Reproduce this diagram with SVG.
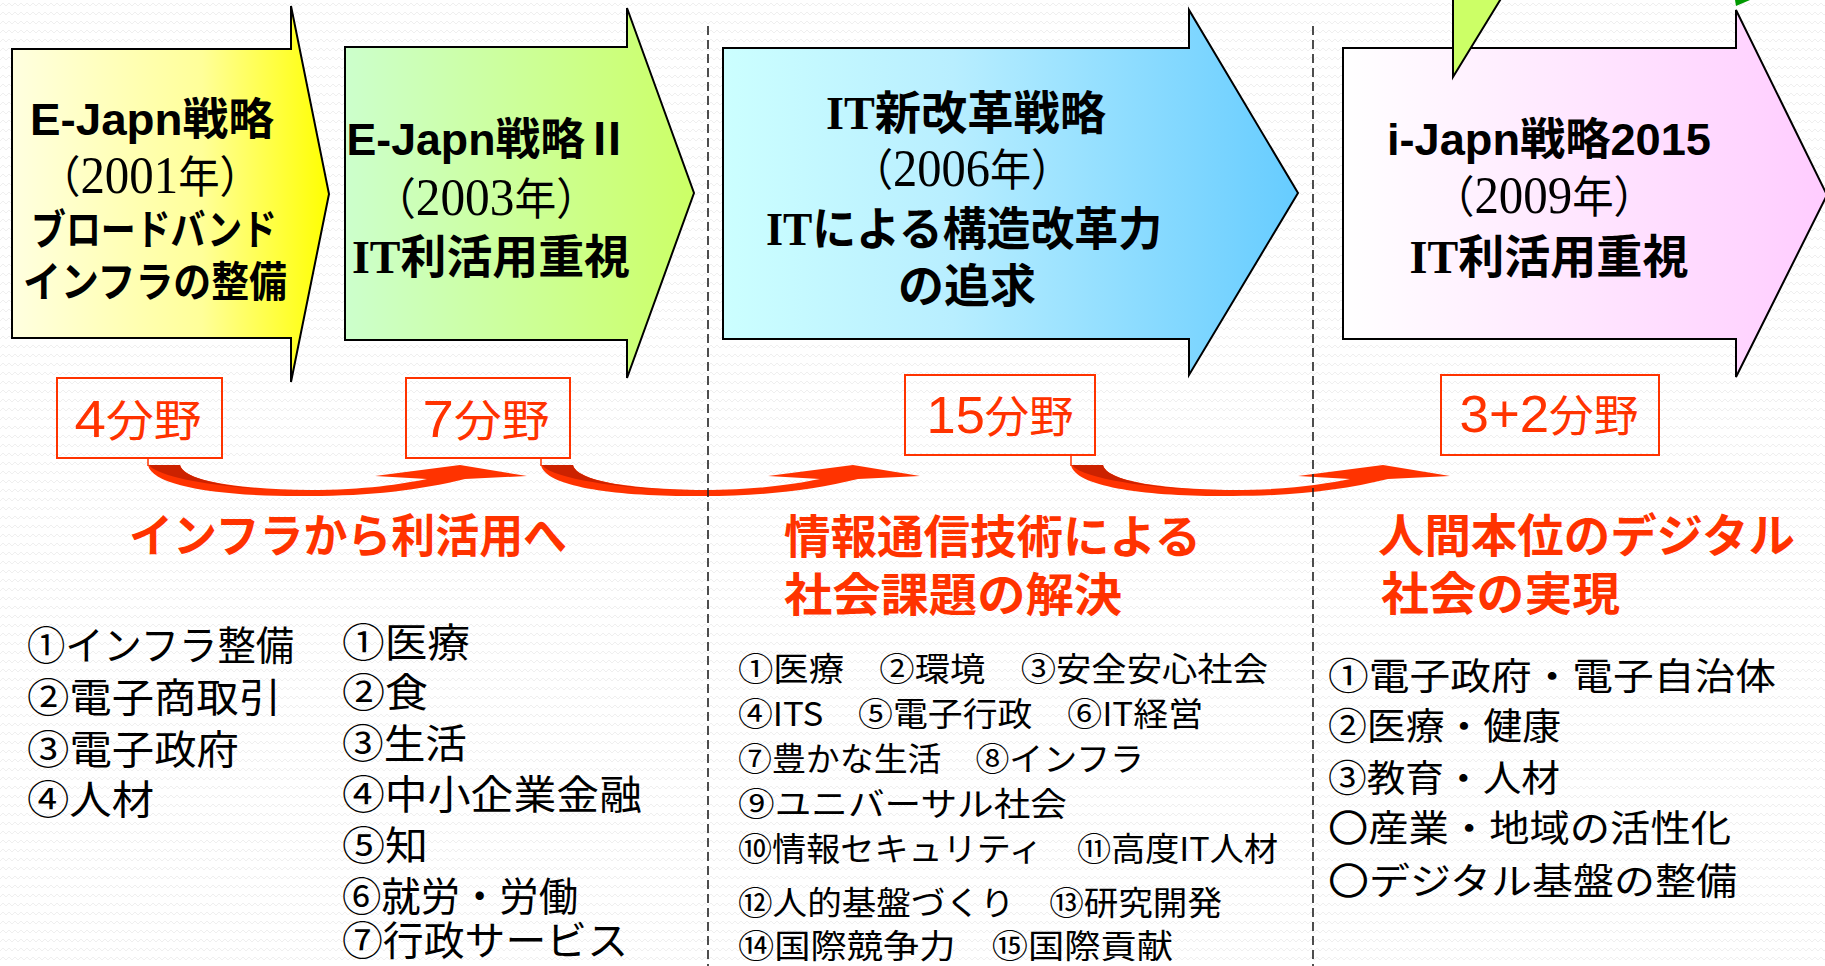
<svg xmlns="http://www.w3.org/2000/svg" xmlns:xlink="http://www.w3.org/1999/xlink" width="1825" height="966" viewBox="0 0 1825 966">
<defs>
  <style>
    .sb { font-family: "Liberation Sans", "Noto Sans CJK JP", sans-serif; font-weight: bold; fill: #000; }
    .sr { font-family: "Liberation Serif", "Noto Sans CJK JP", serif; font-weight: normal; fill: #000; }
    .srb { font-family: "Liberation Serif", "Noto Sans CJK JP", serif; font-weight: bold; fill: #000; }
    .jpb { font-family: "Noto Sans CJK JP", sans-serif; font-weight: bold; fill: #000; }
    .jp { font-family: "Noto Sans CJK JP", sans-serif; font-weight: normal; fill: #000; }
    .redh { font-family: "Noto Sans CJK JP", sans-serif; font-weight: bold; fill: #FF3300; }
    .boxt { font-family: "Liberation Sans", "Noto Sans CJK JP", sans-serif; font-weight: normal; fill: #FF3300; }
    .arrow { stroke: #000; stroke-width: 2; stroke-linejoin: miter; }
    .fbox { fill: none; stroke: #FF3300; stroke-width: 2; }
    .divider { stroke: #222; stroke-width: 1.6; stroke-dasharray: 9 5; fill: none; }
    .tail { stroke: #FF3300; stroke-width: 1.5; }
  </style>
  <pattern id="bgpat" width="12" height="9" patternUnits="userSpaceOnUse">
    <path d="M0,6 L3,3 L6,6 L9,3 L12,6" fill="none" stroke="#EFEFEF" stroke-width="1"/>
  </pattern>
  <linearGradient id="gYellow" x1="0" y1="0" x2="1" y2="0">
    <stop offset="0" stop-color="#FFFFE0"/>
    <stop offset="0.6" stop-color="#FFFF99"/>
    <stop offset="1" stop-color="#FFFF00"/>
  </linearGradient>
  <linearGradient id="gGreen" x1="0" y1="0" x2="1" y2="0">
    <stop offset="0" stop-color="#CCFFCC"/>
    <stop offset="1" stop-color="#CCFF66"/>
  </linearGradient>
  <linearGradient id="gBlue" x1="0" y1="0" x2="1" y2="0">
    <stop offset="0" stop-color="#CCFFFF"/>
    <stop offset="0.4" stop-color="#B8EEFF"/>
    <stop offset="1" stop-color="#66CCFF"/>
  </linearGradient>
  <linearGradient id="gPink" x1="0" y1="0" x2="1" y2="0">
    <stop offset="0" stop-color="#FFFFFF"/>
    <stop offset="1" stop-color="#FFCCFF"/>
  </linearGradient>
  <g id="curved">
    <path d="M148,465 L180,465 C184,481 236,489 310,490 C365,490 402,484 427,479 L375,476 L460,465 L527,476 L465,479 C420,490 370,496 310,496 C225,497 152,487 148,465 Z" fill="#FF3300"/>
    <path d="M149,465 L180,465 C184,481 236,489 300,491 C235,489 172,481 152,468 Z" fill="#CC2200"/>
  </g>
</defs>

<g id="background">
  <rect x="0" y="0" width="1825" height="966" fill="#FFFFFF"/>
  <rect x="0" y="0" width="1825" height="966" fill="url(#bgpat)"/>
</g>

<g id="arrow-2001">
  <path class="arrow" fill="url(#gYellow)" d="M12,49 L291,49 L291,6 L329,194 L291,382 L291,338 L12,338 Z"/>
  <text class="sb" x="152" y="135" font-size="44" text-anchor="middle" textLength="244" lengthAdjust="spacingAndGlyphs">E-Japn戦略</text>
  <text class="sr" x="150" y="193" font-size="44" text-anchor="middle" textLength="222" lengthAdjust="spacingAndGlyphs">（<tspan font-size="52">2001</tspan>年）</text>
  <text class="jpb" x="154" y="245" font-size="42" text-anchor="middle" textLength="246" lengthAdjust="spacingAndGlyphs">ブロードバンド</text>
  <text class="jpb" x="155" y="297" font-size="42" text-anchor="middle" textLength="264" lengthAdjust="spacingAndGlyphs">インフラの整備</text>
</g>

<g id="arrow-2003">
  <path class="arrow" fill="url(#gGreen)" d="M345,47 L627,47 L627,8 L694,193 L627,378 L627,340 L345,340 Z"/>
  <text class="sb" x="488" y="155" font-size="44" text-anchor="middle" textLength="283" lengthAdjust="spacingAndGlyphs">E-Japn戦略Ⅱ</text>
  <text class="sr" x="486" y="215" font-size="44" text-anchor="middle" textLength="224" lengthAdjust="spacingAndGlyphs">（<tspan font-size="52">2003</tspan>年）</text>
  <text class="srb" x="491" y="273" font-size="46" text-anchor="middle" textLength="278" lengthAdjust="spacingAndGlyphs">IT利活用重視</text>
</g>

<g id="arrow-2006">
  <path class="arrow" fill="url(#gBlue)" d="M723,48 L1189,48 L1189,10 L1298,193 L1189,375 L1189,339 L723,339 Z"/>
  <text class="srb" x="966" y="129" font-size="46" text-anchor="middle" textLength="280" lengthAdjust="spacingAndGlyphs">IT新改革戦略</text>
  <text class="sr" x="962" y="186" font-size="44" text-anchor="middle" textLength="220" lengthAdjust="spacingAndGlyphs">（<tspan font-size="52">2006</tspan>年）</text>
  <text class="srb" x="964" y="245" font-size="46" text-anchor="middle" textLength="396" lengthAdjust="spacingAndGlyphs">ITによる構造改革力</text>
  <text class="srb" x="967" y="302" font-size="46" text-anchor="middle">の追求</text>
</g>

<g id="arrow-2009">
  <path class="arrow" fill="url(#gPink)" d="M1343,48 L1736,48 L1736,10 L1827,195 L1736,377 L1736,339 L1343,339 Z"/>
  <polygon class="arrow" fill="#CCFF66" points="1453,-3 1502,-3 1453,77"/>
  <polygon fill="#009900" points="1735,0 1750,0 1736,6"/>
  <text class="sb" x="1549" y="155" font-size="44" text-anchor="middle" textLength="324" lengthAdjust="spacingAndGlyphs">i-Japn戦略2015</text>
  <text class="sr" x="1544" y="213" font-size="44" text-anchor="middle" textLength="222" lengthAdjust="spacingAndGlyphs">（<tspan font-size="52">2009</tspan>年）</text>
  <text class="srb" x="1549" y="273" font-size="46" text-anchor="middle" textLength="279" lengthAdjust="spacingAndGlyphs">IT利活用重視</text>
</g>

<g id="box-4">
  <rect class="fbox" x="57" y="378" width="165" height="80"/>
  <text class="boxt" x="138" y="437" font-size="44" text-anchor="middle" textLength="127" lengthAdjust="spacingAndGlyphs"><tspan font-size="52">4</tspan>分野</text>
</g>
<g id="box-7">
  <rect class="fbox" x="406" y="378" width="164" height="80"/>
  <text class="boxt" x="486" y="437" font-size="44" text-anchor="middle" textLength="127" lengthAdjust="spacingAndGlyphs"><tspan font-size="52">7</tspan>分野</text>
</g>
<g id="box-15">
  <rect class="fbox" x="905" y="375" width="190" height="80"/>
  <text class="boxt" x="1000" y="433" font-size="44" text-anchor="middle" textLength="147" lengthAdjust="spacingAndGlyphs"><tspan font-size="52">15</tspan>分野</text>
</g>
<g id="box-3p2">
  <rect class="fbox" x="1441" y="375" width="218" height="80"/>
  <text class="boxt" x="1549" y="432" font-size="44" text-anchor="middle" textLength="179" lengthAdjust="spacingAndGlyphs"><tspan font-size="52">3+2</tspan>分野</text>
</g>

<g id="connectors">
  <line class="tail" x1="148" y1="458" x2="148" y2="466"/>
  <use xlink:href="#curved"/>
  <g transform="translate(393,0)">
    <line class="tail" x1="148" y1="458" x2="148" y2="466"/>
    <use xlink:href="#curved"/>
  </g>
  <g transform="translate(923,0)">
    <line class="tail" x1="148" y1="455" x2="148" y2="466"/>
    <use xlink:href="#curved"/>
  </g>
</g>

<g id="dividers">
  <line class="divider" x1="708" y1="26" x2="708" y2="966"/>
  <line class="divider" x1="1313" y1="26" x2="1313" y2="966"/>
</g>

<g id="heading-infra">
  <text class="redh" x="129" y="552" font-size="46" textLength="438" lengthAdjust="spacingAndGlyphs">インフラから利活用へ</text>
</g>
<g id="heading-ict">
  <text class="redh" x="784" y="553" font-size="46" textLength="417" lengthAdjust="spacingAndGlyphs">情報通信技術による</text>
  <text class="redh" x="784" y="611" font-size="46" textLength="338" lengthAdjust="spacingAndGlyphs">社会課題の解決</text>
</g>
<g id="heading-digital">
  <text class="redh" x="1378" y="552" font-size="46" textLength="417" lengthAdjust="spacingAndGlyphs">人間本位のデジタル</text>
  <text class="redh" x="1381" y="610" font-size="46" textLength="239" lengthAdjust="spacingAndGlyphs">社会の実現</text>
</g>

<g id="list-2001">
  <text class="jp" x="27" y="660" font-size="40" textLength="267" lengthAdjust="spacingAndGlyphs">①インフラ整備</text>
  <text class="jp" x="27" y="712" font-size="40" textLength="254" lengthAdjust="spacingAndGlyphs">②電子商取引</text>
  <text class="jp" x="27" y="764" font-size="40" textLength="212" lengthAdjust="spacingAndGlyphs">③電子政府</text>
  <text class="jp" x="27" y="814" font-size="40" textLength="127" lengthAdjust="spacingAndGlyphs">④人材</text>
</g>

<g id="list-2003">
  <text class="jp" x="342" y="657" font-size="40" textLength="128" lengthAdjust="spacingAndGlyphs">①医療</text>
  <text class="jp" x="342" y="707" font-size="40" textLength="86" lengthAdjust="spacingAndGlyphs">②食</text>
  <text class="jp" x="342" y="758" font-size="40" textLength="125" lengthAdjust="spacingAndGlyphs">③生活</text>
  <text class="jp" x="342" y="809" font-size="40" textLength="300" lengthAdjust="spacingAndGlyphs">④中小企業金融</text>
  <text class="jp" x="342" y="860" font-size="40" textLength="86" lengthAdjust="spacingAndGlyphs">⑤知</text>
  <text class="jp" x="342" y="911" font-size="40" textLength="236" lengthAdjust="spacingAndGlyphs">⑥就労・労働</text>
  <text class="jp" x="342" y="955" font-size="40" textLength="286" lengthAdjust="spacingAndGlyphs">⑦行政サービス</text>
</g>

<g id="list-2006">
  <text class="jp" x="738" y="681" font-size="33" textLength="530" lengthAdjust="spacingAndGlyphs">①医療　②環境　③安全安心社会</text>
  <text class="jp" x="738" y="726" font-size="33" textLength="465" lengthAdjust="spacingAndGlyphs">④ITS　⑤電子行政　⑥IT経営</text>
  <text class="jp" x="738" y="771" font-size="33" textLength="406" lengthAdjust="spacingAndGlyphs">⑦豊かな生活　⑧インフラ</text>
  <text class="jp" x="738" y="816" font-size="33" textLength="329" lengthAdjust="spacingAndGlyphs">⑨ユニバーサル社会</text>
  <text class="jp" x="738" y="861" font-size="33" textLength="540" lengthAdjust="spacingAndGlyphs">⑩情報セキュリティ　⑪高度IT人材</text>
  <text class="jp" x="738" y="915" font-size="33" textLength="484" lengthAdjust="spacingAndGlyphs">⑫人的基盤づくり　⑬研究開発</text>
  <text class="jp" x="738" y="958" font-size="33" textLength="435" lengthAdjust="spacingAndGlyphs">⑭国際競争力　⑮国際貢献</text>
</g>

<g id="list-2009">
  <text class="jp" x="1328" y="690" font-size="37" textLength="448" lengthAdjust="spacingAndGlyphs">①電子政府・電子自治体</text>
  <text class="jp" x="1328" y="740" font-size="37" textLength="233" lengthAdjust="spacingAndGlyphs">②医療・健康</text>
  <text class="jp" x="1328" y="792" font-size="37" textLength="232" lengthAdjust="spacingAndGlyphs">③教育・人材</text>
  <text class="jp" x="1328" y="842" font-size="37" textLength="403" lengthAdjust="spacingAndGlyphs">〇産業・地域の活性化</text>
  <text class="jp" x="1328" y="895" font-size="37" textLength="409" lengthAdjust="spacingAndGlyphs">〇デジタル基盤の整備</text>
</g>
</svg>
